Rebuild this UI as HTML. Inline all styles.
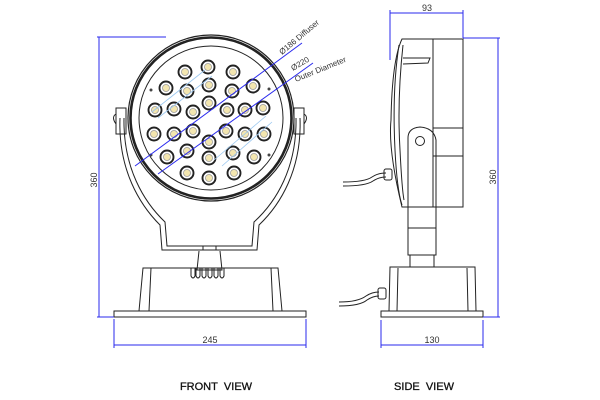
<!DOCTYPE html>
<html><head><meta charset="utf-8"><style>
html,body{margin:0;padding:0;background:#fff;width:600px;height:400px;overflow:hidden}
svg{display:block}
text{font-family:"Liberation Sans",sans-serif}
</style></head><body>
<svg width="600" height="400" viewBox="0 0 600 400" xmlns="http://www.w3.org/2000/svg">
<g fill="none" stroke="#222" stroke-width="1">
<path d="M120 118 C118 170 140 205 160 225 L162 250 L257 250 L259 225 C280 205 302 170 300 118"/>
<path d="M124 118 C123 168 144 202 165 222 L167 246 L252 246 L254 222 C276 202 297 168 296 118"/>
<rect x="116" y="108" width="10" height="26"/>
<rect x="294" y="108" width="10" height="26"/>
<path d="M116 114 q-5 3 0 10 M304 114 q5 3 0 10"/>
<circle cx="211" cy="118" r="83" stroke-width="1.2"/>
<circle cx="211" cy="118" r="80.5" stroke-width="2.6"/>
<circle cx="211" cy="118" r="72"/>
<rect x="203" y="246" width="13" height="4"/>
<path d="M199 251 L197 270 L222 270 L220 251"/>
<path d="M191 268 v8 q2 4 4 0 v-8 M196 268 v8 q2 4 4 0 v-8 M202 268 v8 q2 4 4 0 v-8 M208 268 v8 q2 4 4 0 v-8 M214 268 v8 q2 4 4 0 v-8 M220 268 v8 q2 4 4 0 v-8"/>
<path d="M139 311 L143 268 L278 268 L282 311"/>
<path d="M149 311 L151 268 M271 268 L273 311"/>
<rect x="114" y="311" width="192" height="6"/>
</g>
<g stroke="#222" stroke-width="1.9" fill="#fff">
<circle cx="185" cy="72" r="6.5"/><circle cx="208" cy="67" r="6.5"/><circle cx="233" cy="72" r="6.5"/>
<circle cx="166" cy="88" r="6.5"/><circle cx="187" cy="91" r="6.5"/><circle cx="209" cy="85" r="6.5"/><circle cx="232" cy="91" r="6.5"/><circle cx="253" cy="86" r="6.5"/>
<circle cx="155" cy="110" r="6.5"/><circle cx="174" cy="109" r="6.5"/><circle cx="193" cy="112" r="6.5"/><circle cx="209" cy="103" r="6.5"/><circle cx="227" cy="110" r="6.5"/><circle cx="245" cy="110" r="6.5"/><circle cx="263" cy="108" r="6.5"/>
<circle cx="154" cy="134" r="6.5"/><circle cx="174" cy="134" r="6.5"/><circle cx="193" cy="131" r="6.5"/><circle cx="209" cy="142" r="6.5"/><circle cx="226" cy="131" r="6.5"/><circle cx="245" cy="134" r="6.5"/><circle cx="264" cy="134" r="6.5"/>
<circle cx="167" cy="157" r="6.5"/><circle cx="187" cy="151" r="6.5"/><circle cx="209" cy="158" r="6.5"/><circle cx="233" cy="153" r="6.5"/><circle cx="254" cy="157" r="6.5"/>
<circle cx="187" cy="173" r="6.5"/><circle cx="209" cy="178" r="6.5"/><circle cx="234" cy="173" r="6.5"/>
</g>
<g fill="#f3e6b0" stroke="#999" stroke-width="0.8">
<circle cx="185" cy="72" r="3.5"/><circle cx="208" cy="67" r="3.5"/><circle cx="233" cy="72" r="3.5"/>
<circle cx="166" cy="88" r="3.5"/><circle cx="187" cy="91" r="3.5"/><circle cx="209" cy="85" r="3.5"/><circle cx="232" cy="91" r="3.5"/><circle cx="253" cy="86" r="3.5"/>
<circle cx="155" cy="110" r="3.5"/><circle cx="174" cy="109" r="3.5"/><circle cx="193" cy="112" r="3.5"/><circle cx="209" cy="103" r="3.5"/><circle cx="227" cy="110" r="3.5"/><circle cx="245" cy="110" r="3.5"/><circle cx="263" cy="108" r="3.5"/>
<circle cx="154" cy="134" r="3.5"/><circle cx="174" cy="134" r="3.5"/><circle cx="193" cy="131" r="3.5"/><circle cx="209" cy="142" r="3.5"/><circle cx="226" cy="131" r="3.5"/><circle cx="245" cy="134" r="3.5"/><circle cx="264" cy="134" r="3.5"/>
<circle cx="167" cy="157" r="3.5"/><circle cx="187" cy="151" r="3.5"/><circle cx="209" cy="158" r="3.5"/><circle cx="233" cy="153" r="3.5"/><circle cx="254" cy="157" r="3.5"/>
<circle cx="187" cy="173" r="3.5"/><circle cx="209" cy="178" r="3.5"/><circle cx="234" cy="173" r="3.5"/>
</g>
<g fill="#444"><circle cx="151" cy="90" r="1.5"/><circle cx="269" cy="89" r="1.5"/><circle cx="151" cy="155" r="1.5"/><circle cx="269" cy="155" r="1.5"/></g>
<g stroke="#9cc8f0" stroke-width="0.8"><path d="M152 112 L205 70 M158 118 L212 76 M214 160 L266 116 M222 166 L272 122"/></g>
<g stroke="#2a2aee" stroke-width="1"><path d="M135 166 L302 43"/><path d="M158 174 L313 63"/></g>
<text x="282" y="55" font-size="8" fill="#333" transform="rotate(-40 282 55)">Ø186 Diffuser</text>
<text x="293" y="71" font-size="8" fill="#333" transform="rotate(-31 293 71)">Ø220</text>
<text x="296" y="82" font-size="8" fill="#333" transform="rotate(-22 296 82)">Outer Diameter</text>
<g stroke="#2a2aee" stroke-width="1"><path d="M99 37 V317 M97 37 H166 M97 317 H114"/><path d="M114 319 V348 M306 319 V348 M114 345 H306"/></g>
<text x="97" y="180" font-size="9" fill="#333" text-anchor="middle" transform="rotate(-90 97 180)">360</text>
<text x="210" y="343" font-size="9" fill="#333" text-anchor="middle">245</text>
<g fill="none" stroke="#222" stroke-width="1">
<path d="M402 39 L463 39 L463 207 L402 207 Q388 150 391 120 Q392 60 402 39 Z"/>
<path d="M399 45 Q392 90 395 150 Q397 190 402 205"/>
<path d="M403 45 Q397 100 400 150 Q402 190 404 200"/>
<path d="M433 39 V207 M433 128 H463 M433 156 H463"/>
<path d="M403 58 H430 L428 63 L403 64"/>
<path d="M408 255 V138 Q408 128 420 127 Q434 128 436 140 V255 Z"/>
<circle cx="420" cy="141" r="4.5"/>
<path d="M408 228 H436 M410 255 V267 M434 255 V267"/>
<path d="M389 311 L390 267 L475 267 L476 311 M398 268 L397 311 M467 268 L468 311"/>
<rect x="381" y="311" width="102" height="6"/>
<path d="M343 182 Q365 182 372 177 Q378 173 386 173 M343 186 Q366 186 373 181 Q379 177 386 177"/>
<rect x="384" y="169" width="8" height="11" rx="2"/>
<path d="M339 302 Q358 302 366 296 Q372 292 379 292 M339 306 Q360 306 367 300 Q373 296 379 296"/>
<rect x="378" y="288" width="8" height="11" rx="2"/>
</g>
<g stroke="#2a2aee" stroke-width="1"><path d="M390 10 V60 M463 10 V38 M390 13 H463"/><path d="M463 38 H500 M483 317 H500 M498 38 V317"/><path d="M381 320 V348 M483 320 V348 M381 345 H483"/></g>
<text x="427" y="11" font-size="9" fill="#333" text-anchor="middle">93</text>
<text x="496" y="177" font-size="9" fill="#333" text-anchor="middle" transform="rotate(-90 496 177)">360</text>
<text x="432" y="343" font-size="9" fill="#333" text-anchor="middle">130</text>
<text x="216" y="390" font-size="11" fill="#111" text-anchor="middle" stroke="#111" stroke-width="0.3">FRONT&#160; VIEW</text>
<text x="424" y="390" font-size="11" fill="#111" text-anchor="middle" stroke="#111" stroke-width="0.3">SIDE&#160; VIEW</text>
</svg>
</body></html>
